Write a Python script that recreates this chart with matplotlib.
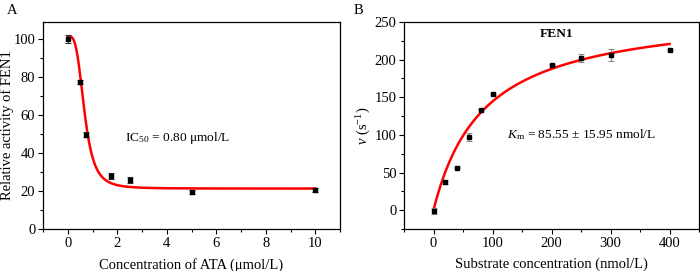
import numpy as np
import matplotlib.pyplot as plt
from matplotlib.ticker import MultipleLocator

plt.rcParams['font.family'] = ['Liberation Serif', 'DejaVu Serif']
plt.rcParams['mathtext.fontset'] = 'custom'
plt.rcParams['mathtext.rm'] = 'Liberation Serif'
plt.rcParams['mathtext.it'] = 'Liberation Serif:italic'

# Panel A: inhibition by ATA
ata_conc = [0, 0.5, 0.75, 1.75, 2.5, 5, 10]
activity = [100, 77.5, 49.7, 28.0, 25.8, 19.4, 20.4]
activity_err = [2.0, 1.0, 1.5, 1.5, 1.5, 1.2, 1.0]
# logistic fit parameters (top, bottom, x0, hill)
fit_a = [101.5, 21.3, 0.68, 3.5]

# Panel B: Michaelis-Menten
substrate = [0, 20, 40, 60, 80, 100, 200, 250, 300, 400]
rate = [-1, 37.5, 56.5, 97.5, 133.5, 154.5, 193.3, 202, 206.7, 212.5]
rate_err = [4, 3, 1, 5, 1, 1, 1, 5, 8, 1]
vmax, km = 268.0, 85.55

fig = plt.figure(figsize=(7, 2.71), dpi=100)
ax1 = fig.add_axes([43/700, 1-229/271, 297/700, 207/271])
ax2 = fig.add_axes([404/700, 1-229/271, 295/700, 207/271])

fs = 10.5
fs_note = 9.6

# --- A ---
xa = np.linspace(0, 10, 400)
top, bot, x0, h = fit_a
ya = bot + (top - bot) / (1 + (xa / x0) ** h)
ax1.plot(xa, ya, color='red', lw=1.8, zorder=2)
ax1.errorbar(ata_conc, activity, yerr=activity_err, fmt='s', color='black',
             ms=3, capsize=2, elinewidth=0.8, capthick=0.8, ecolor='#333333', zorder=3)
ax1.set_xlim(-1, 11)
ax1.set_ylim(0, 109)
ax1.xaxis.set_major_locator(MultipleLocator(2))
ax1.xaxis.set_minor_locator(MultipleLocator(1))
ax1.yaxis.set_major_locator(MultipleLocator(20))
ax1.yaxis.set_minor_locator(MultipleLocator(10))
ax1.set_xlabel('Concentration of ATA (μmol/L)', fontsize=fs, labelpad=6)
ax1.set_ylabel('Relative activity of FEN1', fontsize=fs)
ax1.yaxis.set_label_coords(-0.097, 0.5)
ax1.text(2.3, 48, 'IC$_{50}$ = 0.80 μmol/L', fontsize=fs_note, va='center')
fig.text(12/700, 1-10/271, 'A', fontsize=fs, va='center', ha='center')

# --- B ---
xb = np.linspace(0, 400, 400)
yb = vmax * xb / (km + xb)
ax2.plot(xb, yb, color='red', lw=1.8, zorder=2)
ax2.errorbar(substrate, rate, yerr=rate_err, fmt='s', color='black',
             ms=3, capsize=2, elinewidth=0.8, capthick=0.8, ecolor='#888888', zorder=3)
ax2.set_xlim(-50, 450)
ax2.set_ylim(-25, 250)
ax2.xaxis.set_major_locator(MultipleLocator(100))
ax2.xaxis.set_minor_locator(MultipleLocator(50))
ax2.yaxis.set_major_locator(MultipleLocator(50))
ax2.yaxis.set_minor_locator(MultipleLocator(25))
ax2.set_xlabel('Substrate concentration (nmol/L)', fontsize=fs, labelpad=6)
ax2.set_ylabel('$\\mathit{v}$ (s$^{-1}$)', fontsize=fs)
ax2.yaxis.set_label_coords(-0.105, 0.5)
ax2.text(208, 234, 'FEN1', fontsize=fs_note, fontweight='bold', ha='center', va='center')
ax2.text(125, 100, '$\\mathit{K}_{\\mathrm{m}}$ = 85.55 ± 15.95 nmol/L', fontsize=fs_note, va='center')
fig.text(358/700, 1-10/271, 'B', fontsize=fs, va='center', ha='center')

for ax in (ax1, ax2):
    ax.tick_params(which='major', direction='out', length=3.5, width=0.8, labelsize=fs, pad=2)
    ax.tick_params(which='minor', direction='out', length=2, width=0.8)
    for s in ax.spines.values():
        s.set_linewidth(0.9)

fig.savefig('out.png', dpi=100)
